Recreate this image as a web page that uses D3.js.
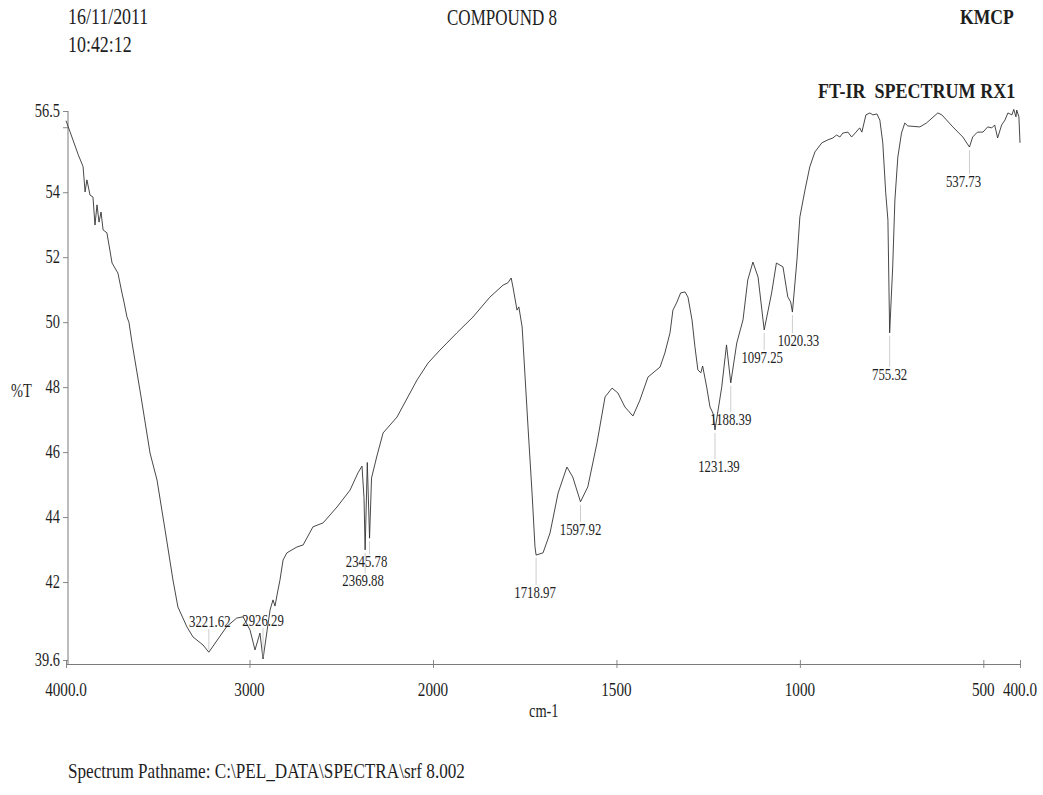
<!DOCTYPE html>
<html>
<head>
<meta charset="utf-8">
<script src="https://cdn.jsdelivr.net/npm/d3@7"></script>
<style>
  html, body { margin: 0; padding: 0; background: #ffffff; }
  svg { display: block; }
  text { font-family: "Liberation Serif", "DejaVu Serif", serif; fill: #1e1e1e; white-space: pre; }
</style>
</head>
<body>
<svg id="chart" width="1043" height="795"></svg>
<script>
// FT-IR transmittance spectrum, wavenumber (cm-1) vs %T
const wavenumbers = [
  4000, 3978, 3933, 3907, 3896, 3886, 3869, 3853, 3842, 3831, 3820, 3809, 3798, 3777,
  3749, 3717, 3695, 3684, 3668, 3657, 3640, 3591, 3542, 3504, 3460, 3417, 3390, 3341,
  3308, 3253, 3221.62, 3124, 3070, 3035, 2997, 2970, 2943, 2926.29, 2888, 2872, 2861,
  2850, 2834, 2817, 2796, 2741, 2708, 2654, 2599, 2523, 2452, 2409, 2387, 2376, 2369.88,
  2358, 2345.78, 2335, 2307, 2272, 2196, 2087, 2027, 1981, 1935, 1891, 1845, 1809, 1796,
  1787, 1782, 1771, 1766, 1757, 1749, 1741, 1730, 1722, 1718.97, 1700, 1681, 1659, 1635,
  1619, 1597.92, 1578, 1553, 1531, 1512, 1496, 1477, 1455, 1436, 1414, 1381, 1368, 1354,
  1346, 1335, 1325, 1313, 1305, 1294, 1286, 1278, 1270, 1265, 1254, 1245, 1237, 1231.39,
  1213, 1200, 1188.39, 1172, 1155, 1142, 1128, 1114, 1097.25, 1077, 1064, 1046, 1033,
  1025, 1020.33, 1008, 1000, 986, 973, 959, 940, 924, 910, 900, 891, 883, 869, 859, 847,
  837, 831, 820, 809, 801, 790, 782, 774, 766, 760, 755.32, 747, 741, 733, 723, 714, 706,
  673, 655, 624, 613, 583, 556, 537.73, 529, 516, 501, 488, 477, 469, 461, 450, 441, 433,
  422, 417, 411, 409, 403, 400
];
const transmittance = [
  56.20, 55.86, 55.15, 54.79, 54.01, 54.38, 53.91, 53.85, 52.99, 53.61, 53.08, 53.39, 52.84, 52.75,
  51.82, 51.51, 50.90, 50.62, 50.16, 50.00, 49.36, 47.70, 45.97, 45.14, 43.60, 42.06, 41.23, 40.62,
  40.31, 40.06, 39.84, 40.63, 40.89, 40.93, 40.52, 39.91, 40.43, 39.63, 41.14, 41.45, 41.26,
  41.60, 42.06, 42.68, 42.90, 43.08, 43.14, 43.70, 43.82, 44.31, 44.83, 45.36, 45.57, 44.60, 42.99,
  45.68, 43.35, 45.20, 45.85, 46.59, 47.08, 48.22, 48.74, 49.14, 49.67, 50.16, 50.77, 51.14, 51.21,
  51.36, 51.08, 50.37, 50.47, 49.85, 48.31, 46.77, 44.74, 43.08, 42.83, 42.90, 43.51, 44.74, 45.54,
  45.23, 44.47, 44.93, 46.28, 47.70, 47.97, 47.82, 47.39, 47.11, 47.60, 48.31, 48.62, 49.05, 49.67,
  50.37, 50.62, 50.90, 50.93, 50.77, 50.07, 49.24, 48.53, 48.44, 48.65, 48.00, 47.39, 47.20, 46.68,
  48.00, 49.30, 48.13, 49.36, 50.07, 51.30, 51.85, 51.39, 49.76, 50.90, 51.82, 51.70, 50.78,
  50.62, 50.31, 51.91, 53.24, 54.07, 54.78, 55.24, 55.52, 55.61, 55.67, 55.76, 55.70, 55.82, 55.85, 55.70, 55.85,
  55.98, 55.85, 56.38, 56.44, 56.38, 56.41, 56.22, 55.52, 53.98, 53.14, 49.67, 51.70, 53.76, 55.08, 55.82, 56.13, 56.04,
  56.01, 56.13, 56.44, 56.38, 56.01, 55.70, 55.39, 55.70, 55.85, 55.85, 56.01, 55.98, 56.07, 55.67, 56.07, 56.22, 56.44,
  56.38, 56.55, 56.32, 56.53, 56.32, 55.52
];

// Annotated band positions (cm-1)
const peakPositions = [3221.62, 2926.29, 2369.88, 2345.78, 1718.97, 1597.92, 1231.39, 1188.39, 1097.25, 1020.33, 755.32, 537.73];

// Axis ticks
const xTickValues = [4000, 3000, 2000, 1500, 1000, 500, 400];
const xTickLabels = ["4000.0", "3000", "2000", "1500", "1000", "500", "400.0"];
const yTickValues = [39.6, 42, 44, 46, 48, 50, 52, 54, 56, 56.5];
const yTickLabels = ["39.6", "42", "44", "46", "48", "50", "52", "54", "", "56.5"];

// Header / footer text
const dateText = "16/11/2011";
const timeText = "10:42:12";
const sampleName = "COMPOUND 8";
const labName = "KMCP";
const plotTitle = "FT-IR  SPECTRUM RX1";
const yAxisTitle = "%T";
const xAxisTitle = "cm-1";
const pathText = "Spectrum Pathname: C:\\PEL_DATA\\SPECTRA\\srf 8.002";

// Label offsets (px) relative to each annotated band: [dx, dy]
const peakLabelOffsets = [[1, -25], [0, -33], [-2, 36], [-3, 29], [-1, 43], [0, 33], [4, 42], [0, 42], [-2, 33], [6, 34], [0, 47], [-6, 40]];

const svg = d3.select("#chart");

// Two-segment wavenumber scale: 4000-2000 drawn at half the density of 2000-400
const x = d3.scaleLinear().domain([4000, 2000, 400]).range([66, 433, 1020]);
const y = d3.scaleLinear().domain([39.6, 56.5]).range([660, 111]);

const axisColor = "#7a7a7a";
const xAxisY = 664;

// Narrow serif text: drawn at the origin and placed with a transform
function putText(g, str, px, py, size, sx, anchor, weight) {
  return g.append("text")
    .attr("transform", `translate(${px},${py}) scale(${sx},1)`)
    .attr("text-anchor", anchor || "start")
    .attr("font-size", size)
    .attr("font-weight", weight || "normal")
    .text(str);
}

// Y axis
const yAxis = d3.axisLeft(y).tickValues(yTickValues).tickSize(5).tickFormat("");
const gy = svg.append("g").attr("transform", "translate(68,0)").call(yAxis);
gy.select(".domain").remove();
gy.selectAll(".tick line").attr("stroke", axisColor).attr("stroke-width", 0.9);
svg.append("line").attr("x1", 68).attr("x2", 68).attr("y1", y(56.5)).attr("y2", xAxisY)
  .attr("stroke", axisColor).attr("stroke-width", 1);
yTickValues.forEach((v, i) => {
  if (yTickLabels[i]) putText(svg, yTickLabels[i], 60, y(v) + 6, 18, 0.8, "end");
});

// X axis
const xAxis = d3.axisBottom(x).tickValues(xTickValues).tickSize(4).tickSizeOuter(0).tickFormat("");
const gx = svg.append("g").attr("transform", `translate(0,${xAxisY})`).call(xAxis);
gx.select(".domain").attr("stroke", axisColor).attr("stroke-width", 1);
gx.selectAll(".tick line").attr("stroke", axisColor).attr("stroke-width", 0.9).attr("y1", -4);
xTickValues.forEach((v, i) => {
  putText(svg, xTickLabels[i], x(v), 696, 19, 0.8, "middle");
});

// Axis titles
putText(svg, yAxisTitle, 11, 397, 18, 0.8, "start");
putText(svg, xAxisTitle, 529, 717, 18, 0.8, "start");

// Spectrum trace
const spectrum = wavenumbers.map((w, i) => ({ w, t: transmittance[i] }));
const line = d3.line().x(d => x(d.w)).y(d => y(d.t));
svg.append("path")
  .datum(spectrum)
  .attr("fill", "none")
  .attr("stroke", "#333333")
  .attr("stroke-width", 0.9)
  .attr("stroke-linejoin", "round")
  .attr("d", line);

// Band annotations: thin drop line plus value label
peakPositions.forEach((p, i) => {
  const idx = wavenumbers.indexOf(p);
  const t = transmittance[idx];
  const px = x(p), py = y(t);
  const [dx, dy] = peakLabelOffsets[i];
  const ly = py + dy;
  const y1 = dy > 0 ? py + 3 : ly + 2;
  const y2 = dy > 0 ? ly - 13 : py - 2;
  svg.append("line").attr("x1", px).attr("x2", px).attr("y1", y1).attr("y2", y2)
    .attr("stroke", "#b8b8b8").attr("stroke-width", 0.7);
  putText(svg, p.toFixed(2), px + dx, ly, 16, 0.8, "middle");
});

// Header and footer
putText(svg, dateText, 68, 24, 23, 0.78, "start");
putText(svg, timeText, 68, 52, 23, 0.78, "start");
putText(svg, sampleName, 447, 25, 23, 0.74, "start");
putText(svg, labName, 960, 24, 22, 0.8, "start", "bold");
putText(svg, plotTitle, 818, 98, 22, 0.82, "start", "bold");
putText(svg, pathText, 68, 778, 22, 0.78, "start");
</script>
</body>
</html>
